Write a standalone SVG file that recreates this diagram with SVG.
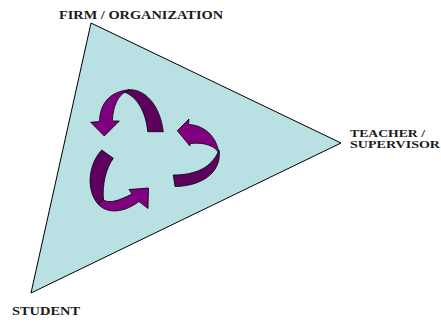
<svg xmlns="http://www.w3.org/2000/svg" width="441" height="329" viewBox="0 0 441 329">
<style>
.lbl{font-family:"Liberation Serif","Times New Roman",serif;font-weight:bold;fill:#1a1a1a}
.tri{fill:#b9e0e3;stroke:#000;stroke-width:1}
.fr{fill:#800080;stroke:#000;stroke-width:0.8;stroke-linejoin:round}
.bk{fill:#5e005e;stroke:#000;stroke-width:0.8;stroke-linejoin:round}
</style>
<rect width="441" height="329" fill="#fff"/>
<g id="triangle">
<polygon class="tri" points="91,23 341,143 31,293"/>
</g>
<g id="firm">
<text class="lbl" x="59" y="19.3" font-size="13" textLength="164" lengthAdjust="spacingAndGlyphs">FIRM / ORGANIZATION</text>
</g>
<g id="teacher">
<text class="lbl" x="350" y="136.5" font-size="10.5" textLength="75" lengthAdjust="spacingAndGlyphs">TEACHER /</text>
<text class="lbl" x="350" y="148" font-size="10.5" textLength="90" lengthAdjust="spacingAndGlyphs">SUPERVISOR</text>
</g>
<g id="student">
<text class="lbl" x="12" y="315" font-size="12.5" textLength="68" lengthAdjust="spacingAndGlyphs">STUDENT</text>
</g>
<g id="connectors">
<g id="arrow-top">
<path class="bk" d="M129,89.7 C145,89 160,105 163.3,131.7 L147.7,131.7 C146,112 137,97 125,92.3 Z"/>
<path class="fr" d="M104.3,136 L90.7,122.3 L99.5,121.5 C100,105 108,92 129,89.7 L125,92.3 C119,95 113,105 112.3,121 L119.3,121 Z"/>
</g>
<g id="arrow-right">
<path class="bk" d="M219,150 C222,170 205,186 175,186.5 L173.3,175 C195,175 212,168 219,150 Z"/>
<path class="fr" d="M177.3,130.7 L189,119 L188.5,124.5 C203,125 216,135 219,153 C215,146 205,142 190,143.5 L190,146 Z"/>
</g>
<g id="arrow-left">
<path class="bk" d="M101.7,150 L113.3,158.3 C106,168 102,185 103.5,200 L98,204 C86,190 88,165 101.7,150 Z"/>
<path class="fr" d="M103.5,200 C110,204 120,200 132,194 L129,189.5 L148.5,188 L148,208.5 L139,201.5 C125,212 108,215 98,204 Z"/>
</g>
</g>
</svg>
